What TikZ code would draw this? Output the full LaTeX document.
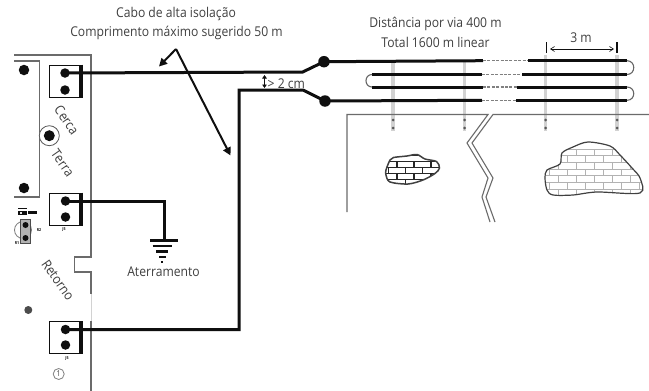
\documentclass[tikz,border=0pt]{standalone}
\usepackage{fontspec}
\setmainfont[FakeStretch=0.9]{Open Sans}
\usetikzlibrary{arrows.meta}
\definecolor{ink}{gray}{0.06}
\definecolor{txt}{gray}{0.25}
\definecolor{panel}{gray}{0.42}
\tikzset{
  wire/.style={line width=3pt,ink,line join=miter},
  dashwire/.style={line width=1.2pt,gray,dash pattern=on 3pt off 1.4pt},
  hook/.style={line width=1.1pt,gray!80!black},
  panelline/.style={line width=1.1pt,panel},
  termbox/.style={draw=ink,line width=1pt,minimum width=33pt,minimum height=32pt,inner sep=0pt,fill=white},
  pin/.style={circle,fill=ink,inner sep=0pt,minimum size=9.5pt},
  bigpin/.style={circle,fill=ink,inner sep=0pt,minimum size=11.5pt},
  label/.style={font=\fontsize{13.5}{15}\selectfont,text=txt,inner sep=0pt},
  tiny/.style={font=\fontsize{4}{4}\selectfont\bfseries,text=ink,inner sep=0pt},
  post/.style={line width=3.5pt,gray!35},
  postdot/.style={circle,fill=gray!70!black,inner sep=0pt,minimum size=3pt},
  rock/.style={line width=1.2pt,black!75},
}
\newcommand{\brickwall}[8]{% x0 y0 rows rowh brickw cols colour width
  \foreach \r in {0,...,#3}{
    \pgfmathsetmacro{\yy}{#2+\r*#4}
    \pgfmathsetmacro{\yb}{\yy+#4}
    \pgfmathsetmacro{\off}{mod(\r,2)*#5/2}
    \draw[#7,line width=#8] (#1,\yy) -- ++(#5*#6,0);
    \foreach \c in {0,...,#6}{
      \draw[#7,line width=#8] ({#1+\off+\c*#5},\yy) -- ({#1+\off+\c*#5},\yb);
    }
  }
}
\begin{document}
\begin{tikzpicture}[x=1pt,y=-1pt]
\useasboundingbox (0,0) rectangle (649,391);
\fill[white] (0,0) rectangle (649,391);

% --- control board
\draw[panelline] (14,55) -- (91,55) -- (91,257) -- (74.5,257) -- (74.5,272) -- (91,272) -- (91,294);
\draw[line width=0.6pt,gray!35] (91,294) -- (91,321);
\draw[panelline] (91,321) -- (91,391);
\draw[panelline] (14,61) -- (39.5,61) -- (39.5,197) -- (14,197);
\node[circle,fill=ink,inner sep=0pt,minimum size=10.5pt] (h1) at (24,70) {};
\node[circle,fill=ink,inner sep=0pt,minimum size=10.5pt] (h2) at (24,188) {};
\node[circle,draw=gray!70!black,line width=0.8pt,inner sep=0pt,minimum size=20pt,fill=white] (ring) at (49.3,135.7) {};
\node[circle,fill=ink,inner sep=0pt,minimum size=11pt] (h3) at (49.3,135.7) {};
\node[circle,fill=black!70,inner sep=0pt,minimum size=8pt] (h4) at (28.3,310) {};

% terminals
\node[termbox] (t1) at (66.2,81) {};
\node[termbox] (t2) at (66.2,209) {};
\node[termbox] (t3) at (66.2,337.5) {};
\foreach \t in {t1,t2,t3}{
  \draw[line width=4.5pt,ink] ([xshift=-2.2pt]\t.north east) -- ([xshift=-2.2pt]\t.south east);
}
\node[pin] (p1a) at (65,73) {};
\node[pin] (p1b) at (65,90) {};
\node[pin] (p2a) at (65.5,201) {};
\node[pin] (p2b) at (65.5,217) {};
\node[pin] (p3a) at (65.5,329.5) {};
\node[pin] (p3b) at (65.5,345) {};
\node[tiny] (j1) at (64,229.5) {J5};
\node[tiny] (j2) at (67,358) {J5};

% small component
\node[circle,draw=gray,line width=0.8pt,inner sep=0pt,minimum size=17pt] (q) at (23,230) {};
\fill[gray!60] (20,219) rectangle (30.5,243);
\draw[line width=0.7pt,black!70] (20,219) rectangle (30.5,243);
\node[circle,fill=ink,inner sep=0pt,minimum size=6pt] (q1) at (25.5,225) {};
\node[circle,fill=ink,inner sep=0pt,minimum size=6pt] (q2) at (25.5,238) {};
\draw[line width=0.6pt,ink] (18,208.5) -- (27,208.5);
\fill[ink] (18,210.5) rectangle (27,214.5);
\fill[gray!20] (20,211.5) rectangle (22,213.5);
\fill[ink] (28,211) rectangle (37,214);
\node[tiny] (qa) at (39,230.5) {R2};
\node[tiny] (qb) at (17,243) {R1};

% rotated labels
\node[label,rotate=-55] (cerca) at (66.7,120) {Cerca};
\node[label,rotate=-55] (terra) at (62.7,163) {Terra};
\node[label,rotate=-55] (retorno) at (58,280) {Retorno};
\node[circle,draw=gray,line width=0.8pt,inner sep=0pt,minimum size=11pt,font=\fontsize{8}{8}\selectfont,text=txt] (one) at (58.7,374) {1};

% --- ground
\coordinate (gtop) at (164,240.5);
\draw[wire] (p2a.center) -- (164,201) -- (gtop);
\draw[line width=2.4pt,ink] (150,240.5) -- (177.5,240.5);
\draw[line width=2.4pt,ink] (152.7,245.7) -- (171.7,245.7);
\draw[line width=2.4pt,ink] (156,251.5) -- (168,251.5);
\draw[line width=2.4pt,ink] (159,256.8) -- (166,256.8);
\draw[line width=2pt,ink] (161.3,261.5) -- (163.3,261.5);
\node[label] (aterr) at (163.5,272) {Aterramento};

% --- fence lines
\node[bigpin] (d1) at (324,61.7) {};
\node[bigpin] (d2) at (325,101) {};
\draw[wire] (p1a.center) -- (302.7,72) -- (d1.center);
\draw[wire] (p3a.center) -- (239,329.5) -- (239,90) -- (303,90) -- (d2.center);

% posts (behind the wires)
\foreach \x/\yt/\n in {393/60/a,464.5/60/b,545.6/55/c,617/55/d}{
  \draw[post] (\x,\yt) -- (\x,131);
  \node[postdot] (top\n) at (\x,120) {};
  \node[postdot] (bot\n) at (\x,128) {};
}

\coordinate (r1a) at (483,60.7); \coordinate (r1b) at (528,60.7); \coordinate (r1c) at (627,60.7);
\coordinate (r2a) at (372,74.5); \coordinate (r2b) at (482,74.5); \coordinate (r2c) at (522,74.5); \coordinate (r2d) at (627,74.5);
\coordinate (r3a) at (372,87); \coordinate (r3b) at (483,87); \coordinate (r3c) at (517,87); \coordinate (r3d) at (627,87);
\coordinate (r4a) at (482,100.3); \coordinate (r4b) at (516,100.3); \coordinate (r4c) at (627,100.3);
\draw[wire] (d1.center) -- (r1a);
\draw[dashwire] (r1a) -- (r1b);
\draw[wire] (r1b) -- (r1c);
\draw[wire] (r2a) -- (r2b); \draw[dashwire] (r2b) -- (r2c); \draw[wire] (r2c) -- (r2d);
\draw[wire] (r3a) -- (r3b); \draw[dashwire] (r3b) -- (r3c); \draw[wire] (r3c) -- (r3d);
\draw[wire] (d2.center) -- (r4a); \draw[dashwire] (r4a) -- (r4b); \draw[wire] (r4b) -- (r4c);
\draw[hook] (r1c) .. controls (636,60.7) and (636,74.5) .. (r2d);
\draw[hook] (r3d) .. controls (636,87) and (636,100.3) .. (r4c);
\draw[hook] (r2a) .. controls (364,74.5) and (364,87) .. (r3a);

% dimension 3 m
\coordinate (tk1a) at (546.5,42); \coordinate (tk1b) at (546.5,53);
\coordinate (tk2a) at (617,42); \coordinate (tk2b) at (617,53);
\draw[line width=1.5pt,ink] (tk1a) -- (tk1b);
\draw[line width=1.5pt,ink] (tk2a) -- (tk2b);
\draw[{Straight Barb[length=4pt,width=5pt]}-{Straight Barb[length=4pt,width=5pt]},line width=0.6pt,ink] (550,49) -- (614,49);
\node[label] (three) at (581,38) {3 m};

% titles
\node[label] (dist1) at (435.5,24) {Distância por via 400 m};
\node[label] (dist2) at (435.5,42.5) {Total 1600 m linear};
\node[label] (cabo1) at (176,14) {Cabo de alta isolação};
\node[label] (cabo2) at (176.5,33) {Comprimento máximo sugerido 50 m};

% callout arrows
\coordinate (apex) at (176,49);
\coordinate (tipa) at (159,66.5);
\coordinate (tipb) at (230.5,155.5);
\draw[line width=2pt,ink,-{Triangle[length=8pt,width=8pt]}] (apex) -- (tipa);
\draw[line width=2pt,ink,-{Triangle[length=8pt,width=8pt]}] (apex) -- (tipb);

% spacing mark
\coordinate (sa) at (264.5,75); \coordinate (sb) at (264.5,88);
\draw[{Triangle[length=3.5pt,width=4.5pt]}-{Triangle[length=3.5pt,width=4.5pt]},line width=0.8pt,ink] (sa) -- (sb);
\node[label,anchor=west] (gap) at (267.5,84) {> 2 cm};

% --- wall and crack
\draw[line width=1.1pt,panel] (347,212) -- (347,114.5) -- (488,114.5) -- (467,143) -- (488,178) -- (482,197) -- (490,222);
\draw[line width=1.1pt,panel] (649,114.5) -- (493,114.5) -- (472,143) -- (493,178) -- (486,197) -- (495,222);

% --- small rock
\begin{scope}
\clip plot[smooth cycle,tension=0.5] coordinates {(386,170) (390,160) (393.5,157.5) (407,156) (417,154.5) (425,159) (436.5,161.5) (439.5,168) (435,173.5) (423,180) (408,184) (390,182) (386,175)};
\brickwall{380}{161.5}{4}{6}{17}{4}{black!85}{1.1pt}
\draw[black!85,line width=1.1pt] (380,155.5) -- (445,155.5);
\end{scope}
\draw[rock,line width=1.5pt] plot[smooth cycle,tension=0.5] coordinates {(386,170) (390,160) (393.5,157.5) (407,156) (417,154.5) (425,159) (436.5,161.5) (439.5,168) (435,173.5) (423,180) (408,184) (390,182) (386,175)};

% --- large rock
\begin{scope}
\clip plot[smooth cycle,tension=0.5] coordinates {(545,178) (547,170) (560,164) (562,153) (573,147) (588,142) (610,146) (620,155) (632,168) (640,178) (640,193) (597,192) (573,195) (553,195) (547,190)};
\brickwall{540}{149}{7}{6.7}{18}{7}{gray!60}{0.8pt}
\end{scope}
\draw[rock] plot[smooth cycle,tension=0.5] coordinates {(545,178) (547,170) (560,164) (562,153) (573,147) (588,142) (610,146) (620,155) (632,168) (640,178) (640,193) (597,192) (573,195) (553,195) (547,190)};
\end{tikzpicture}
\end{document}
